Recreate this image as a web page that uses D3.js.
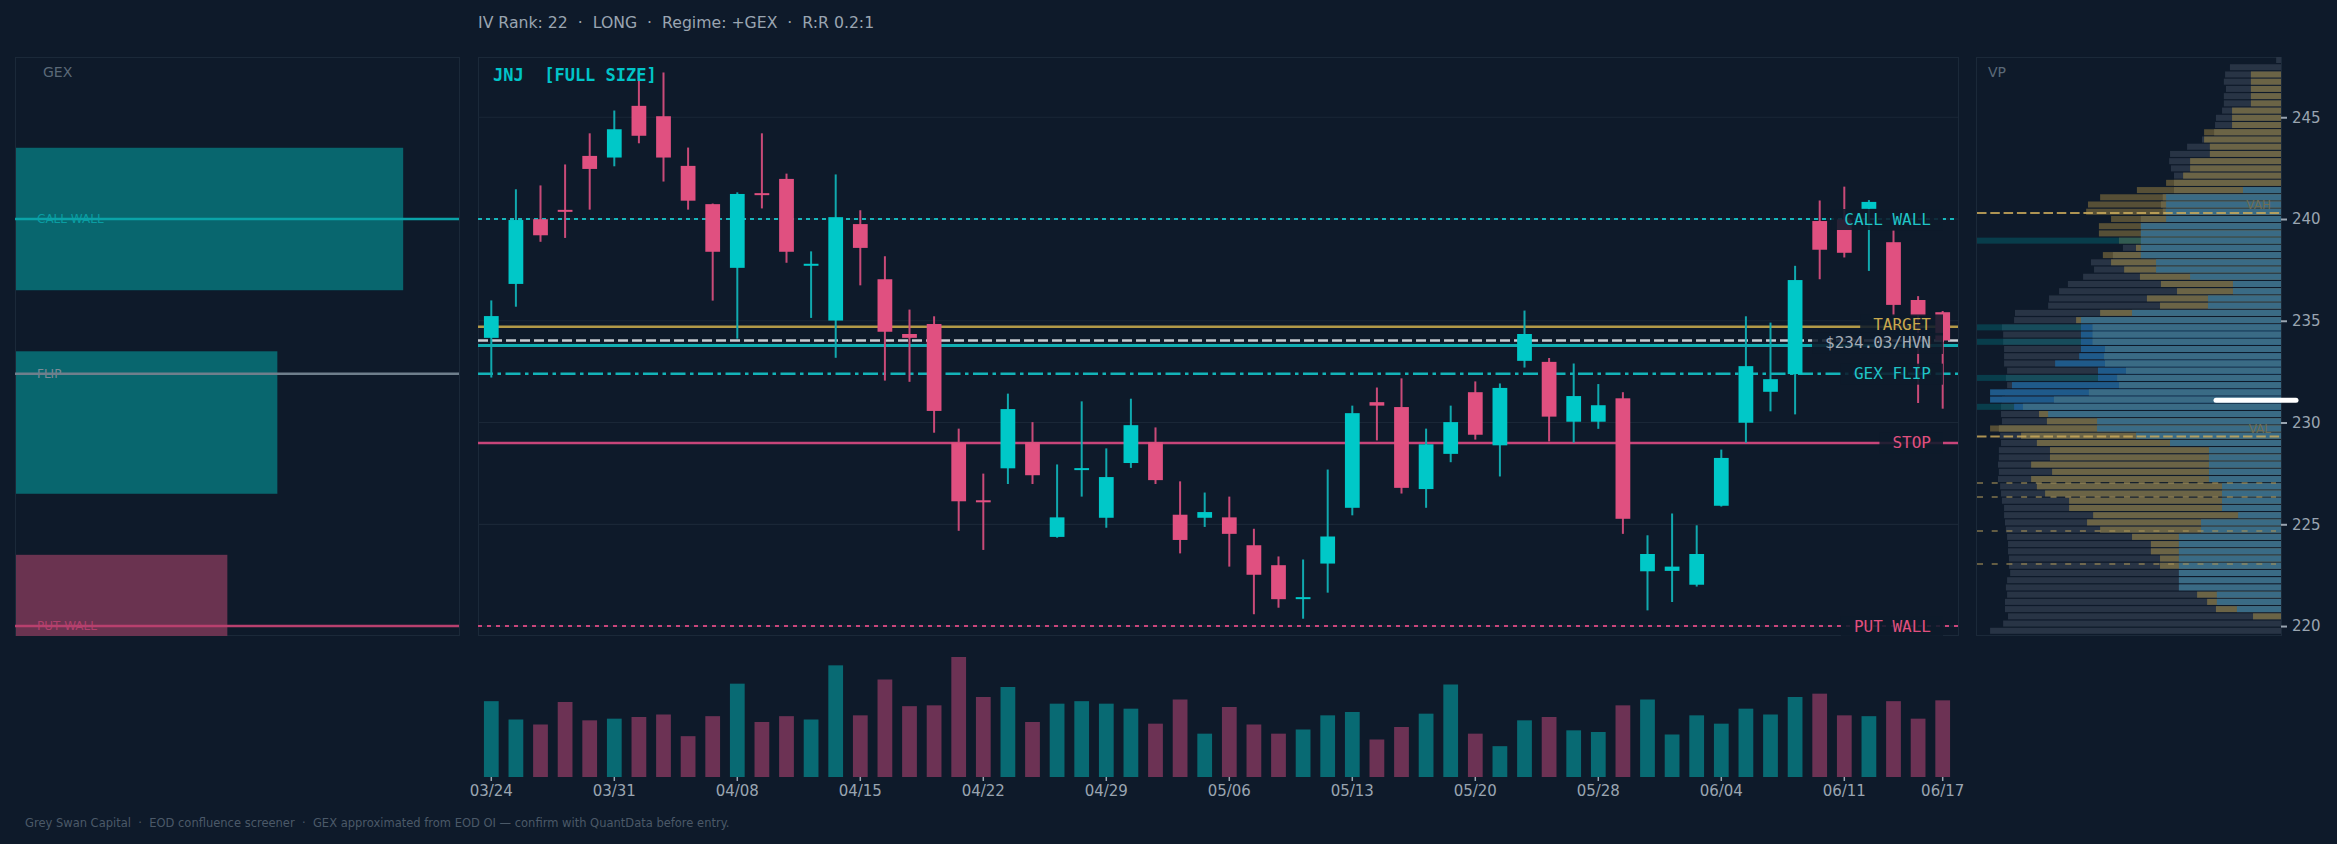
<!DOCTYPE html>
<html><head><meta charset="utf-8">
<script src="https://cdn.jsdelivr.net/npm/d3@7"></script>
<style>
html,body{margin:0;padding:0;background:#0e1a2a;overflow:hidden;}
svg{display:block;}
text{white-space:pre;}
</style></head><body>
<svg id="c" width="2337" height="844"></svg>
<script>
// ---------------- DATA ----------------
const dates = ["03/24","03/25","03/26","03/27","03/30","03/31","04/01","04/02","04/06","04/07",
"04/08","04/09","04/10","04/13","04/14","04/15","04/16","04/17","04/20","04/21",
"04/22","04/23","04/24","04/27","04/28","04/29","04/30","05/01","05/04","05/05",
"05/06","05/07","05/08","05/11","05/12","05/13","05/14","05/15","05/18","05/19",
"05/20","05/21","05/22","05/26","05/27","05/28","05/29","06/01","06/02","06/03",
"06/04","06/05","06/08","06/09","06/10","06/11","06/12","06/15","06/16","06/17"];
const opens = [234.16,236.81,239.99,240.45,243.10,243.02,245.56,245.05,242.61,240.73,
237.60,241.27,241.97,237.74,235.01,239.75,237.04,234.35,234.84,229.01,
226.18,227.75,229.03,224.38,227.70,225.32,228.01,229.03,225.47,225.32,
225.34,223.97,222.99,221.35,223.07,225.81,231.00,230.76,226.73,228.46,
231.49,228.88,233.03,232.98,230.04,230.04,231.19,222.69,222.71,222.03,
225.91,229.99,231.51,232.38,239.90,239.98,240.50,238.86,236.02,235.42];
const highs = [236.00,241.46,241.65,242.68,244.21,245.33,247.20,247.20,243.51,240.76,
241.31,244.21,242.23,238.41,242.19,240.43,238.17,235.55,235.22,229.70,
227.49,231.42,230.02,227.94,231.04,228.73,231.17,229.76,227.11,226.56,
226.36,224.78,223.42,223.27,227.69,230.83,231.72,232.17,229.70,230.83,
232.02,231.92,235.50,233.17,232.90,231.89,231.49,224.46,225.53,224.95,
228.67,235.22,234.91,237.70,240.91,241.59,240.93,239.43,236.21,235.48];
const lows = [232.21,235.69,238.88,239.07,240.46,242.59,243.72,241.84,240.46,235.99,
234.12,240.52,237.85,235.14,233.18,236.74,232.06,232.00,229.50,224.68,
223.74,226.98,226.98,224.34,226.36,224.83,227.77,226.98,223.57,224.87,
222.92,220.58,220.90,220.36,221.64,225.44,229.12,226.51,225.81,228.05,
229.16,227.35,232.70,229.07,229.01,229.69,224.53,220.77,221.18,221.94,
225.87,229.01,230.55,230.40,237.04,238.11,237.45,235.25,230.96,230.68];
const closes = [235.23,239.95,239.20,240.40,242.46,244.41,244.09,243.02,240.90,238.39,
241.23,241.23,238.39,237.80,240.09,238.58,234.46,234.16,230.57,226.13,
226.08,230.66,227.41,225.34,227.76,227.32,229.87,227.17,224.23,225.60,
224.53,222.52,221.32,221.42,224.40,230.46,230.83,226.79,228.93,230.02,
229.40,231.70,234.35,230.29,231.30,230.85,225.27,223.54,222.92,223.54,
228.26,232.77,232.13,237.00,238.49,238.34,240.84,235.78,235.25,234.03];
// volume, millions of shares
const volumes = [9.1,6.9,6.3,9.0,6.8,7.0,7.2,7.5,4.9,7.3,
11.2,6.6,7.3,6.9,13.4,7.4,11.7,8.5,8.6,14.4,
9.6,10.8,6.6,8.8,9.1,8.8,8.2,6.4,9.3,5.2,
8.4,6.3,5.2,5.7,7.4,7.8,4.5,6.0,7.6,11.1,
5.2,3.7,6.8,7.2,5.6,5.4,8.6,9.3,5.1,7.4,
6.4,8.2,7.5,9.6,10.0,7.4,7.3,9.1,7.0,9.2];
const xTickLabels = ["03/24","03/31","04/08","04/15","04/22","04/29","05/06","05/13","05/20","05/28","06/04","06/11","06/17"];
const yTickValues = [220,225,230,235,240,245];

// key levels on the price chart
const levelNames  = ["CALL WALL","TARGET","$234.03/HVN","GEX FLIP","STOP","PUT WALL"];
const levelPrices = [240.0, 234.7, 234.03, 232.4, 229.0, 220.0];
const entryPrice = 233.78;

// GEX by strike (bn)
const gexStrikes = [240, 230, 220];
const gexValues  = [2.4, 1.62, -1.31];
const gexLevelNames  = ["CALL WALL","FLIP","PUT WALL"];
const gexLevelPrices = [240.0, 232.4, 220.0];

// volume profile: 80 bins, listed top (high price) to bottom, relative volume (%)
const vpTopPrice = 247.96, vpBinSize = 0.355;
const vpTotal = [1.6,16.8,18.4,18.8,18.1,18.8,18.8,19.4,21.4,21.7,
22.0,26.0,30.9,36.5,36.8,36.2,35.2,35.2,35.2,38.9,
39.5,38.9,46.1,46.1,46.1,46.1,52.0,55.3,62.5,61.5,
65.1,70.1,73.0,76.3,76.6,87.5,87.8,91.8,91.4,91.4,
91.1,91.1,91.1,90.1,90.5,90.1,90.8,91.8,92.1,92.1,
91.8,92.8,92.4,92.1,92.8,92.8,93.1,92.8,93.1,92.4,
92.1,91.8,91.1,91.1,90.8,90.5,90.1,89.8,89.8,89.5,
89.5,89.1,90.1,90.5,90.1,90.8,90.8,89.8,91.4,95.7];
const vpUpVol = [0,0,9.9,9.9,9.9,9.9,9.9,16.1,16.1,16.1,
25.3,25.3,23.4,23.4,29.9,29.9,32.2,37.8,47.4,59.5,
63.5,64.1,55.9,59.9,59.9,53.3,47.7,58.6,55.9,51.6,
46.4,39.5,34.2,44.1,39.8,59.5,67.4,0,0,0,
0,0,0,0,0,0,0,0,0,79.6,
77.0,95.7,85.5,80.3,76.0,76.0,82.2,75.3,82.2,80.3,
77.6,69.7,69.7,61.8,63.8,59.5,49.0,42.8,42.8,39.8,
39.8,0,0,0,27.6,24.3,21.4,9.2,0,0];
const vpRecent = [0,0,0,0,0,0,0,0,0,0,
0,0,0,0,0,0,0,0,0,0,
0,0,0,0,0,0,0,0,0,0,
0,0,0,0,0,0,0,65.8,65.8,65.8,
65.8,66.4,74.3,60.2,60.2,88.5,95.7,95.7,87.8,0,
0,0,0,0,0,0,0,0,0,0,
0,0,0,0,0,0,0,0,0,0,
0,0,0,0,0,0,0,0,0,0];
const vpSession = [0,0,0,0,0,0,0,0,0,0,
0,0,0,0,0,0,0,0,12.5,37.8,
37.8,37.9,37.8,46.1,46.1,46.1,46.1,46.1,41.1,41.1,
29.9,15.8,15.8,24.0,24.0,49.0,65.8,62.0,62.0,62.0,
57.9,58.2,57.9,51.0,53.9,53.3,63.2,74.7,84.9,76.6,
60.5,60.5,47.7,36.5,23.7,23.7,23.7,23.7,23.7,19.4,
19.4,19.4,19.4,14.1,26.3,26.3,33.6,33.6,33.6,33.6,
33.6,33.6,33.6,33.6,21.1,21.1,14.5,0,0,0];
const vpHighlightBins = [25,37,39,44,48];
const pocPrice = 231.1, vahPrice = 240.3, valPrice = 229.31;
const vpNodePrices = [227.03, 226.34, 224.67, 223.05];

const headerText = "IV Rank: 22  \u00b7  LONG  \u00b7  Regime: +GEX  \u00b7  R:R 0.2:1";
const chartTitle = "JNJ  [FULL SIZE]";
const footerText = "Grey Swan Capital  \u00b7  EOD confluence screener  \u00b7  GEX approximated from EOD OI \u2014 confirm with QuantData before entry.";

// ---------------- STYLE ----------------
const BG = "#0e1a2a", BORDER = "#1b2939", GRID = "#1a2737";
const UP = "#00c8c8", DOWN = "#e05080";
const VUP = "#086a73", VDOWN = "#6c3254";
const AXIS = "#9aa5b1";
const SANS = "DejaVu Sans, sans-serif", MONO = "DejaVu Sans Mono, monospace";

const svg = d3.select("#c");
svg.append("rect").attr("width",2337).attr("height",844).attr("fill",BG);

const y = d3.scaleLinear().domain([219.56, 247.96]).range([635, 57]);
const x = d3.scaleBand().domain(dates).range([479, 1955]).padding(0);
const cx = d => x(d) + x.bandwidth()/2;
const bw = x.bandwidth()*0.6;

const defs = svg.append("defs");
defs.append("clipPath").attr("id","clipMain").append("rect").attr("x",478).attr("y",57).attr("width",1481).attr("height",579);
defs.append("clipPath").attr("id","clipGex").append("rect").attr("x",15).attr("y",57).attr("width",445).attr("height",579);

// header
svg.append("text").attr("x",478).attr("y",27.5).text(headerText)
  .attr("font-family",SANS).attr("font-size",15.7).attr("fill",AXIS);

// panel borders
[[15.5,57.5,444,578],[478.5,57.5,1480,578],[1976.5,57.5,305,578]].forEach(p=>{
  svg.append("rect").attr("x",p[0]).attr("y",p[1]).attr("width",p[2]).attr("height",p[3])
    .attr("fill","none").attr("stroke",BORDER).attr("stroke-width",1);
});

// ---------------- GEX PANEL ----------------
const gx = d3.scaleLinear().domain([0, 2.746]).range([16, 459]);
const gG = svg.append("g").attr("clip-path","url(#clipGex)");
gG.selectAll("rect.gex").data(gexStrikes.map((s,i)=>({s,v:gexValues[i]}))).join("rect")
  .attr("x",gx(0)).attr("width",d=>gx(Math.abs(d.v))-gx(0))
  .attr("y",d=>y(d.s+3.5)).attr("height",d=>y(d.s-3.5)-y(d.s+3.5))
  .attr("fill",d=>d.v>=0?"#08666e":"#6a3350");
const gexLineCol = ["#0aa3a8","#6f7f8c","#b8406e"];
const gexTextCol = ["#0a9da2","#7d8b97","#b0406c"];
gexLevelPrices.forEach((p,i)=>{
  gG.append("text").attr("x",37).attr("y",y(p)+4).text(gexLevelNames[i])
    .attr("font-family",SANS).attr("font-size",12).attr("fill",gexTextCol[i]);
  gG.append("line").attr("x1",15).attr("x2",459).attr("y1",y(p)).attr("y2",y(p))
    .attr("stroke",gexLineCol[i]).attr("stroke-width",2.5);
});
svg.append("text").attr("x",43).attr("y",77).text("GEX")
  .attr("font-family",SANS).attr("font-size",14).attr("fill","#5b6978");

// ---------------- MAIN PANEL ----------------
const mG = svg.append("g").attr("clip-path","url(#clipMain)");
mG.selectAll("line.grid").data(yTickValues).join("line")
  .attr("x1",478).attr("x2",1958).attr("y1",d=>y(d)).attr("y2",d=>y(d))
  .attr("stroke",GRID).attr("stroke-width",1.2);

const lvlStroke = ["#17b6bb","#b39a48","#c9cdd2","#13b3b8","#c8457a","#c8457a"];
const lvlDash   = ["4,4",null,"10,4","15,4.5,3.5,4.5",null,"4,5"];
const lvlWidth  = [2,2.5,2.5,2.5,2.5,2];
const lvlText   = ["#20c4c7","#c9a94e","#a3acb6","#20c4c7","#e0507f","#e0507f"];
mG.append("line").attr("x1",478).attr("x2",1958).attr("y1",y(entryPrice)).attr("y2",y(entryPrice))
  .attr("stroke","#11aeb3").attr("stroke-width",3);
levelPrices.forEach((p,i)=>{
  const l = mG.append("line").attr("x1",478).attr("x2",1958).attr("y1",y(p)).attr("y2",y(p))
    .attr("stroke",lvlStroke[i]).attr("stroke-width",lvlWidth[i]);
  if (lvlDash[i]) l.attr("stroke-dasharray",lvlDash[i]);
});

const candles = dates.map((d,i)=>({d,o:opens[i],h:highs[i],l:lows[i],c:closes[i],v:volumes[i]}));
const isUp = d => d.c >= d.o;
mG.selectAll("line.wick").data(candles).join("line")
  .attr("x1",d=>cx(d.d)).attr("x2",d=>cx(d.d)).attr("y1",d=>y(d.h)).attr("y2",d=>y(d.l))
  .attr("stroke",d=>isUp(d)?"#10a9ae":"#c94a78").attr("stroke-width",2);
mG.selectAll("rect.body").data(candles).join("rect")
  .attr("x",d=>cx(d.d)-bw/2).attr("width",bw)
  .attr("y",d=>y(Math.max(d.o,d.c)))
  .attr("height",d=>Math.max(2,Math.abs(y(d.o)-y(d.c))))
  .attr("fill",d=>isUp(d)?UP:DOWN);

// level labels, spread apart so neighbours don't collide
const labRight = 1931, bgRight = 1943, minGap = 18.5;
const labs = levelPrices.map((p,i)=>({i, ly:y(p)})).sort((a,b)=>a.ly-b.ly);
for (let k=0;k<4;k++){
  for (let j=1;j<labs.length;j++){
    const d = labs[j].ly - labs[j-1].ly;
    if (d < minGap){ const s=(minGap-d)/2; labs[j-1].ly-=s; labs[j].ly+=s; }
  }
}
const lblG = mG.append("g");
const bgG = lblG.append("g"), txG = lblG.append("g");
labs.forEach(L=>{
  const i = L.i;
  const t = txG.append("text").attr("x",labRight).attr("y",L.ly).attr("text-anchor","end")
    .attr("dominant-baseline","central").text(levelNames[i])
    .attr("font-family",MONO).attr("font-size",16).attr("fill",lvlText[i]);
  const w = t.node().getComputedTextLength();
  bgG.append("rect").attr("x",labRight-w-13).attr("width",bgRight-(labRight-w-13))
    .attr("y",L.ly-10).attr("height",21).attr("fill",BG).attr("opacity",0.88);
});

svg.append("text").attr("x",493).attr("y",80.5).text(chartTitle)
  .attr("font-family",MONO).attr("font-weight","bold").attr("font-size",17).attr("fill","#00c4c8");

// ---------------- VOLUME ----------------
const vy = d3.scaleLinear().domain([0,14.4]).range([777,657]);
svg.append("g").selectAll("rect").data(candles).join("rect")
  .attr("x",d=>cx(d.d)-bw/2).attr("width",bw)
  .attr("y",d=>vy(d.v)).attr("height",d=>vy(0)-vy(d.v))
  .attr("fill",d=>isUp(d)?VUP:VDOWN);

const xAxis = svg.append("g").attr("transform","translate(0,777)")
  .call(d3.axisBottom(x).tickValues(xTickLabels).tickSize(4).tickPadding(4));
xAxis.select(".domain").remove();
xAxis.selectAll("line").attr("stroke",AXIS).attr("stroke-width",1.5);
xAxis.selectAll("text").attr("fill",AXIS).attr("font-family",SANS).attr("font-size",15);

// ---------------- VOLUME PROFILE ----------------
const vpRight = 2281;
const vx = d3.scaleLinear().domain([0,100]).range([0,304]);
const vpG = svg.append("g");
const rows = vpTotal.map((t,i)=>{
  const top = vpTopPrice - i*vpBinSize;
  return {i, t, u:vpUpVol[i], r:vpRecent[i], s:vpSession[i],
    y0:y(top), h:y(top-vpBinSize)-y(top)-1.2, hl:vpHighlightBins.includes(i)};
});
function seg(cls, val, col, filt){
  vpG.selectAll("rect."+cls).data(rows.filter(d=>val(d)>0 && (!filt||filt(d)))).join("rect")
    .attr("class",cls)
    .attr("x",d=>vpRight-vx(val(d))).attr("width",d=>vx(val(d)))
    .attr("y",d=>d.y0).attr("height",d=>d.h).attr("fill",col);
}
seg("tot", d=>d.t, "#283445");
seg("updark", d=>d.u, "#564f36", d=>d.u>d.t);
seg("up", d=>Math.min(d.u,d.t), "#6b6446");
vpG.selectAll("rect.hl").data(rows.filter(d=>d.hl)).join("rect").attr("class","hl")
  .attr("x",1977).attr("width",vpRight-1977).attr("y",d=>d.y0).attr("height",d=>d.h)
  .attr("fill","rgb(0,110,122)").attr("opacity",0.42);
seg("rec", d=>d.r, "#1f5a8a");
seg("ses", d=>d.s, "#3a6b85");

vpNodePrices.forEach(p=>{
  vpG.append("line").attr("x1",1977).attr("x2",2276).attr("y1",y(p)).attr("y2",y(p))
    .attr("stroke","#a89257").attr("stroke-opacity",0.75).attr("stroke-width",1.5).attr("stroke-dasharray","6,8.7");
});
[[vahPrice,"VAH"],[valPrice,"VAL"]].forEach(([p,n])=>{
  vpG.append("line").attr("x1",1977).attr("x2",2281).attr("y1",y(p)).attr("y2",y(p))
    .attr("stroke","#c9a95a").attr("stroke-opacity",0.85).attr("stroke-width",2).attr("stroke-dasharray","9.5,3.8");
  vpG.append("text").attr("x",2271).attr("y",y(p)-4).attr("text-anchor","end").text(n)
    .attr("font-family",SANS).attr("font-size",12).attr("fill","#6e6d52");
});
svg.append("line").attr("x1",2216).attr("x2",2296).attr("y1",y(pocPrice)).attr("y2",y(pocPrice))
  .attr("stroke","#ffffff").attr("stroke-width",5).attr("stroke-linecap","round");
svg.append("text").attr("x",1988).attr("y",77).text("VP")
  .attr("font-family",SANS).attr("font-size",14).attr("fill","#5b6978");

const yAxis = svg.append("g").attr("transform","translate(2281,0)")
  .call(d3.axisRight(y).tickValues(yTickValues).tickSize(6).tickPadding(5).tickFormat(d3.format("d")));
yAxis.select(".domain").remove();
yAxis.selectAll("line").attr("stroke",AXIS).attr("stroke-width",2);
yAxis.selectAll("text").attr("fill",AXIS).attr("font-family",SANS).attr("font-size",15);

// footer
svg.append("text").attr("x",25).attr("y",827).text(footerText)
  .attr("font-family",SANS).attr("font-size",11.5).attr("fill","#4b5968");
</script>
</body></html>
